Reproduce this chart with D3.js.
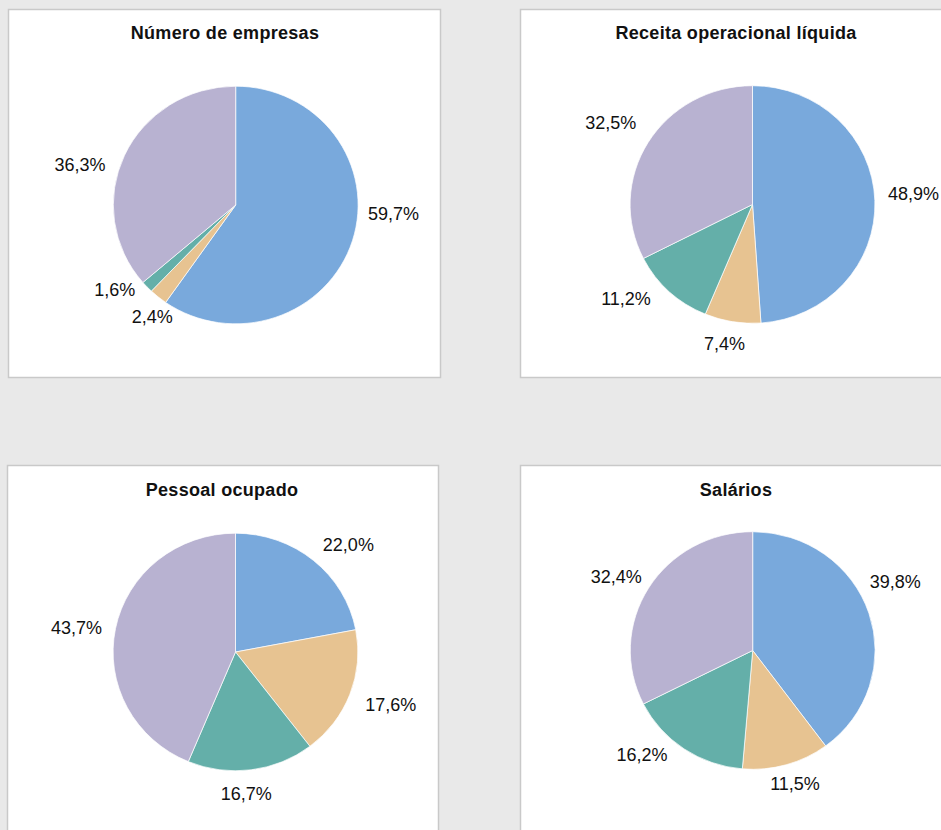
<!DOCTYPE html>
<html>
<head>
<meta charset="utf-8">
<script src="https://cdn.jsdelivr.net/npm/d3@7"></script>
<style>
  html, body { margin: 0; padding: 0; background: #e9e9e9; }
  svg { display: block; }
</style>
</head>
<body>
<svg id="chart" width="941" height="830"></svg>
<script>
// ---- Data ----
const categories = ["Cat A", "Cat B", "Cat C", "Cat D"];
const titles = ["Número de empresas", "Receita operacional líquida", "Pessoal ocupado", "Salários"];
const numeroEmpresas = [59.7, 2.4, 1.6, 36.3];
const receitaOperacional = [48.9, 7.4, 11.2, 32.5];
const pessoalOcupado = [22.0, 17.6, 16.7, 43.7];
const salarios = [39.8, 11.5, 16.2, 32.4];
const seriesValues = [numeroEmpresas, receitaOperacional, pessoalOcupado, salarios];

// ---- Layout / style ----
const colors = ["#79a9dc", "#e7c391", "#64afa9", "#b8b2d1"];
const panels = [
  { x: 8.5, y: 9.5, w: 432, h: 368, tx: 225, ty: 39, cx: 235.7, cy: 205 },
  { x: 520.5, y: 9.5, w: 432, h: 368, tx: 736, ty: 39, cx: 752.5, cy: 204.5 },
  { x: 7.5, y: 465.5, w: 431, h: 400, tx: 222, ty: 496, cx: 235.5, cy: 652 },
  { x: 520.5, y: 465.5, w: 432, h: 400, tx: 736, ty: 496, cx: 752.7, cy: 650.5 }
];
// label placement: angle nudge (deg) from slice mid-angle, and distance from centre
const labelNudge = [[-14.5, -2.5, 8.7, -10], [-2.1, 2.1, 10.4, -1.3], [6.9, -2.3, 3, -2.5], [-7.7, -1.8, 12.8, -3.1]];
const labelDist = [[158, 139.4, 147.5, 161], [161.4, 141.4, 157.9, 164], [155.6, 163.9, 142.2, 160.9], [158.5, 139.5, 151.8, 155.2]];
const radius = 120;
const sx = 1.02, sy = 0.99;

const svg = d3.select("#chart");
const fmt = v => d3.format(".1f")(v).replace(".", ",") + "%";
const pie = d3.pie().sort(null).value(d => d);
const arc = d3.arc().innerRadius(0).outerRadius(radius);
const color = d3.scaleOrdinal().domain(d3.range(categories.length)).range(colors);

panels.forEach((p, i) => {
  const g = svg.append("g");
  g.append("rect")
    .attr("x", p.x).attr("y", p.y).attr("width", p.w).attr("height", p.h)
    .attr("fill", "#ffffff").attr("stroke", "#c9c9c9").attr("stroke-width", 1.5);
  g.append("text")
    .attr("x", p.tx).attr("y", p.ty)
    .attr("text-anchor", "middle")
    .attr("font-family", "'Liberation Sans', Arial, sans-serif")
    .attr("font-weight", "bold")
    .attr("font-size", 18)
    .attr("letter-spacing", 0.3)
    .attr("fill", "#111")
    .text(titles[i]);

  const arcs = pie(seriesValues[i]);
  const pg = g.append("g").attr("transform", `translate(${p.cx},${p.cy}) scale(${sx},${sy})`);
  pg.selectAll("path").data(arcs).enter().append("path")
    .attr("d", arc)
    .attr("fill", (d, j) => color(j))
    .attr("stroke", "#ffffff").attr("stroke-width", 0.7);

  g.selectAll("text.lbl").data(arcs).enter().append("text")
    .attr("class", "lbl")
    .attr("x", (d, j) => {
      const a = (d.startAngle + d.endAngle) / 2 + labelNudge[i][j] * Math.PI / 180;
      return p.cx + labelDist[i][j] * Math.sin(a);
    })
    .attr("y", (d, j) => {
      const a = (d.startAngle + d.endAngle) / 2 + labelNudge[i][j] * Math.PI / 180;
      return p.cy - labelDist[i][j] * Math.cos(a) + 6.5;
    })
    .attr("text-anchor", "middle")
    .attr("font-family", "'Liberation Sans', Arial, sans-serif")
    .attr("font-size", 18)
    .attr("fill", "#111")
    .text(d => fmt(d.data));
});
</script>
</body>
</html>
